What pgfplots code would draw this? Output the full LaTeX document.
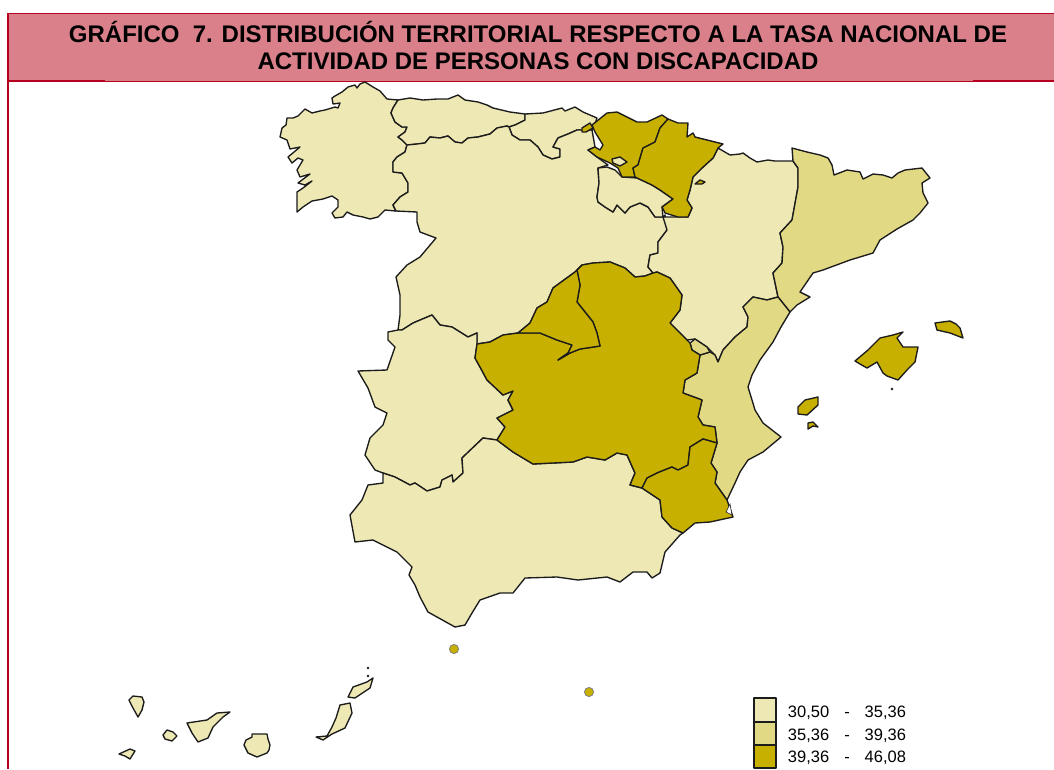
\documentclass[border=0pt]{standalone}
\usepackage{pgfplots}
\pgfplotsset{compat=1.18}
\usepackage{fontspec}
\setmainfont{Liberation Sans}
\definecolor{cl}{HTML}{EEE8B4}
\definecolor{cm}{HTML}{E2D985}
\definecolor{cd}{HTML}{C8B000}
\definecolor{hd}{HTML}{D9808A}
\definecolor{rb}{HTML}{B5001F}
\definecolor{ln}{HTML}{1C1C1C}
\pgfplotsset{reg/.style={draw=ln,line width=1.35pt,line join=round,mark=none,fill=#1}}
\begin{document}
\begin{tikzpicture}
\begin{axis}[hide axis,scale only axis,width=1054pt,height=769pt,xmin=0,xmax=1054,ymin=0,ymax=769,y dir=reverse,clip=true]
\path (axis cs:0,0) rectangle (axis cs:1054,769);
\addplot[fill=white,draw=none,mark=none] coordinates {(0,0)(1054,0)(1054,769)(0,769)} --cycle;
% header
\addplot[fill=hd,draw=none,mark=none] coordinates {(8,13)(1054,13)(1054,81)(8,81)} --cycle;
\addplot[rb,line width=1.6pt,mark=none] coordinates {(1054,13.5)(8,13.5)(8,769)};
\addplot[rb,line width=1pt,mark=none] coordinates {(8,81)(1054,81)};
\addplot[rb,line width=1.8pt,mark=none] coordinates {(8,81)(105,81)};
\addplot[rb,line width=1.8pt,mark=none] coordinates {(973,81)(1054,81)};
% Galicia
\addplot[reg=cl] coordinates {(280,137)(282,128)(286,125)(287,118)(293,118)(298,116)(305,109)(312,113)(320,111)(325,110)(335,107)(338,108)(340,103)(333,104)(332,98)(335,96)(342,92)(348,87)(355,85)(357,88)(360,84)(365,82)(373,87)(380,91)(387,99)(398,100)(393,108)(391,113)(395,122)(402,127)(407,127)(405,132)(398,137)(402,140)(407,145)(405,152)(397,157)(393,162)(393,172)(402,173)(408,183)(408,192)(400,197)(393,205)(396,211)(385,210)(378,217)(370,219)(363,217)(353,215)(347,212)(343,217)(335,218)(332,213)(338,207)(338,200)(332,196)(323,199)(312,201)(303,207)(297,212)(297,192)(303,188)(312,181)(305,185)(298,183)(310,174)(300,177)(297,170)(303,160)(298,158)(292,163)(288,157)(300,147)(290,149)(287,140)} --cycle;
% Asturias
\addplot[reg=cl] coordinates {(398,100)(410,98)(423,100)(437,99)(448,99)(458,95)(465,100)(478,102)(487,105)(493,108)(510,112)(525,114)(525,120)(515,125)(509,127)(507,126)(497,128)(490,134)(478,137)(468,138)(462,143)(455,142)(448,136)(440,138)(430,137)(425,143)(417,144)(407,145)(402,140)(398,137)(405,132)(407,127)(402,127)(395,122)(391,113)(393,108)} --cycle;
% Cantabria
\addplot[reg=cl] coordinates {(525,114)(543,113)(562,108)(565,111)(575,107)(583,112)(597,118)(595,124)(592,130)(577,130)(568,134)(558,138)(553,147)(560,149)(560,157)(552,159)(543,155)(538,147)(530,140)(520,140)(512,135)(509,127)(515,125)(525,120)} --cycle;
% Castilla y Leon
\addplot[reg=cl] coordinates {(407,145)(417,144)(425,143)(430,137)(440,138)(448,136)(455,142)(462,143)(468,138)(478,137)(490,134)(497,128)(507,126)(509,127)(512,135)(520,140)(530,140)(538,147)(543,155)(552,159)(560,157)(560,149)(553,147)(558,138)(568,134)(577,130)(592,130)(595,147)(588,150)(597,157)(608,165)(598,168)(599,183)(597,197)(598,202)(605,207)(613,212)(617,205)(625,213)(630,207)(640,203)(648,207)(655,217)(663,217)(665,215)(667,230)(658,242)(658,253)(650,255)(648,267)(653,273)(645,276)(635,277)(625,268)(610,262)(593,263)(582,265)(575,272)(553,288)(547,302)(537,308)(530,323)(518,333)(503,335)(490,342)(477,344)(477,333)(468,337)(452,327)(440,325)(432,315)(413,323)(402,330)(398,330)(400,315)(400,295)(396,277)(407,265)(420,257)(436,238)(420,232)(417,222)(417,212)(396,211)(393,205)(400,197)(408,192)(408,183)(402,173)(393,172)(393,162)(397,157)(405,152)} --cycle;
% La Rioja
\addplot[reg=cl] coordinates {(598,168)(607,167)(615,170)(622,177)(637,178)(652,185)(660,190)(673,199)(662,207)(663,217)(655,217)(648,207)(640,203)(630,207)(625,213)(617,205)(613,212)(605,207)(598,202)(597,197)(599,183)} --cycle;
% Aragon
\addplot[reg=cl] coordinates {(663,217)(678,217)(688,217)(692,208)(687,200)(690,190)(693,177)(702,168)(713,158)(718,148)(730,155)(740,154)(743,153)(750,158)(757,162)(768,160)(775,161)(793,161)(798,168)(798,187)(792,220)(780,233)(783,247)(782,263)(773,273)(778,297)(767,300)(753,297)(743,307)(748,317)(747,327)(735,337)(723,350)(718,362)(715,355)(707,347)(695,339)(687,340)(670,323)(680,310)(682,295)(670,278)(657,272)(653,273)(648,267)(650,255)(658,253)(658,242)(667,230)} --cycle;
% Extremadura
\addplot[reg=cl] coordinates {(398,330)(402,330)(413,323)(432,315)(440,325)(452,327)(468,337)(477,333)(477,344)(475,358)(480,367)(487,380)(503,395)(513,391)(508,400)(513,410)(497,418)(505,427)(497,440)(483,438)(462,458)(463,473)(453,482)(452,475)(442,480)(440,487)(427,491)(415,483)(410,485)(395,477)(383,473)(375,470)(365,455)(370,438)(383,425)(387,413)(375,407)(368,388)(358,371)(387,370)(395,347)(388,340)(388,332)} --cycle;
% Andalucia
\addplot[reg=cl] coordinates {(383,473)(383,483)(368,485)(362,500)(350,515)(355,542)(373,540)(397,552)(412,567)(409,575)(415,585)(420,597)(428,612)(455,627)(465,625)(472,613)(480,600)(500,593)(513,593)(525,578)(557,577)(578,580)(607,577)(620,582)(633,572)(647,572)(652,578)(660,573)(665,552)(680,535)(683,533)(672,528)(662,517)(660,500)(642,488)(630,485)(635,473)(627,455)(617,453)(605,460)(587,457)(573,462)(553,463)(533,464)(513,452)(497,440)(483,438)(462,458)(463,473)(453,482)(452,475)(442,480)(440,487)(427,491)(415,483)(410,485)(395,477)} --cycle;
% Canarias
\addplot[reg=cl] coordinates {(129,700)(133,696)(142,697)(144,702)(142,710)(138,717)(133,708)} --cycle;
\addplot[reg=cl] coordinates {(119,754)(130,749)(135,751)(130,759)(125,756)} --cycle;
\addplot[reg=cl] coordinates {(163,735)(167,730)(173,732)(177,736)(172,741)(165,739)} --cycle;
\addplot[reg=cl] coordinates {(187,723)(207,720)(217,713)(230,712)(223,717)(213,727)(208,738)(198,742)(192,733)} --cycle;
\addplot[reg=cl] coordinates {(244,745)(246,740)(252,737)(252,734)(267,734)(268,739)(270,745)(269,750)(267,753)(257,757)(248,753)} --cycle;
\addplot[reg=cl] coordinates {(316,737)(327,736)(332,727)(336,718)(340,705)(350,703)(352,713)(345,728)(332,734)(323,740)} --cycle;
\addplot[reg=cl] coordinates {(348,697)(353,687)(367,682)(373,678)(370,688)(355,698)} --cycle;
\addplot[only marks,mark=*,mark size=1.1pt,color=ln] coordinates {(368,676)(368,668)(892,389)};
% Catalunya
\addplot[reg=cm] coordinates {(792,148)(807,152)(820,155)(828,158)(832,165)(834,175)(847,170)(860,172)(863,179)(873,174)(883,175)(892,178)(898,173)(905,170)(922,168)(930,178)(922,183)(923,193)(928,203)(920,213)(913,220)(897,229)(880,240)(873,253)(850,260)(823,270)(813,273)(800,292)(810,297)(797,305)(790,312)(778,297)(773,273)(782,263)(783,247)(780,233)(792,220)(798,187)(798,168)(793,161)} --cycle;
% Valencia
\addplot[reg=cm] coordinates {(790,312)(781,327)(773,342)(760,360)(752,375)(748,387)(752,400)(755,410)(763,423)(781,437)(763,452)(748,460)(740,472)(735,483)(727,500)(715,483)(717,472)(711,463)(717,443)(715,427)(703,425)(698,417)(702,400)(683,393)(685,380)(697,373)(700,355)(710,352)(715,355)(718,362)(723,350)(735,337)(747,327)(748,317)(743,307)(753,297)(767,300)(778,297)} --cycle;
\addplot[reg=cm] coordinates {(690,343)(695,339)(707,347)(710,352)(700,355)(692,350)} --cycle;
% Pais Vasco
\addplot[reg=cd] coordinates {(592,125)(607,113)(617,112)(637,122)(647,122)(662,115)(668,119)(660,128)(655,142)(643,148)(638,165)(633,168)(635,177)(622,177)(618,168)(610,163)(597,157)(588,150)(595,147)(600,150)(603,145)(595,132)} --cycle;
\addplot[reg=cl] coordinates {(612,159)(620,157)(627,162)(620,166)(613,163)} --cycle;
\addplot[reg=cd] coordinates {(582,128)(590,123)(593,128)(586,132)(582,132)} --cycle;
% Navarra
\addplot[reg=cd] coordinates {(668,119)(678,123)(688,123)(687,137)(693,133)(695,137)(723,144)(718,148)(713,158)(702,168)(693,177)(690,190)(687,200)(692,208)(688,217)(678,217)(665,213)(662,207)(673,199)(660,190)(652,185)(637,178)(635,177)(633,168)(638,165)(643,148)(655,142)(660,128)} --cycle;
\addplot[reg=cd] coordinates {(695,184)(700,180)(705,182)(702,184)} --cycle;
% Castilla-La Mancha
\addplot[reg=cd] coordinates {(582,265)(593,263)(610,262)(625,268)(635,277)(645,276)(653,273)(657,272)(670,278)(682,295)(680,310)(670,323)(687,340)(690,343)(692,350)(700,355)(697,373)(685,380)(683,393)(702,400)(698,417)(703,425)(715,427)(717,443)(703,439)(690,447)(688,465)(678,470)(672,467)(657,473)(647,478)(642,488)(630,485)(635,473)(627,455)(617,453)(605,460)(587,457)(573,462)(553,463)(533,464)(513,452)(497,440)(505,427)(497,418)(513,410)(508,400)(513,391)(503,395)(487,380)(480,367)(475,358)(477,344)(490,342)(503,335)(518,333)(528,333)(540,333)(557,340)(572,345)(568,353)(558,360)(570,353)(580,349)(600,346)(597,333)(593,322)(577,302)(580,285)(577,270)} --cycle;
% Madrid
\addplot[reg=cd] coordinates {(582,265)(575,272)(553,288)(547,302)(537,308)(530,323)(518,333)(528,333)(540,333)(557,340)(572,345)(568,353)(558,360)(570,353)(580,349)(600,346)(597,333)(593,322)(577,302)(580,285)(577,270)} --cycle;
% Murcia
\addplot[reg=cd] coordinates {(642,488)(647,478)(657,473)(672,467)(678,470)(688,465)(690,447)(703,439)(717,443)(711,463)(717,472)(715,483)(727,500)(733,517)(710,522)(695,523)(683,533)(672,528)(662,517)(660,500)} --cycle;
\addplot[draw=ln,line width=.6pt,fill=white,mark=none] coordinates {(726,512)(730,504)(732,515)} --cycle;
% Baleares
\addplot[reg=cd] coordinates {(855,361)(868,350)(880,338)(893,335)(903,332)(897,338)(903,347)(918,347)(915,362)(907,370)(898,380)(887,376)(883,373)(877,362)(867,368)(860,364)} --cycle;
\addplot[reg=cd] coordinates {(935,323)(950,321)(956,324)(960,328)(963,338)(950,333)(937,330)} --cycle;
\addplot[reg=cd] coordinates {(798,407)(805,400)(818,397)(818,405)(807,415)(798,414)} --cycle;
\addplot[reg=cd] coordinates {(808,423)(813,422)(818,427)(813,426)(808,429)} --cycle;
% Ceuta y Melilla
\addplot[only marks,mark=*,mark size=4.6pt,mark options={fill=cd,draw=gray,line width=.8pt}] coordinates {(454,649)(589,692)};
% leyenda
\addplot[reg=cl] coordinates {(754,698)(776,698)(776,722)(754,722)} --cycle;
\addplot[reg=cm] coordinates {(754,722)(776,722)(776,745)(754,745)} --cycle;
\addplot[reg=cd] coordinates {(754,745)(776,745)(776,768)(754,768)} --cycle;
\node[anchor=center,inner sep=0,font=\fontsize{16.5}{16.5}\selectfont] at (axis cs:847,713) {30,50\hspace{15pt}-\hspace{15pt}35,36};
\node[anchor=center,inner sep=0,font=\fontsize{16.5}{16.5}\selectfont] at (axis cs:847,735.5) {35,36\hspace{15pt}-\hspace{15pt}39,36};
\node[anchor=center,inner sep=0,font=\fontsize{16.5}{16.5}\selectfont] at (axis cs:847,758) {39,36\hspace{15pt}-\hspace{15pt}46,08};
\node[anchor=center,inner sep=0,font=\bfseries\fontsize{24}{24}\selectfont] at (axis cs:538,31.5) {GRÁFICO\hspace{0.55em}7. DISTRIBUCIÓN TERRITORIAL RESPECTO A LA TASA NACIONAL DE};
\node[anchor=center,inner sep=0,font=\bfseries\fontsize{24}{24}\selectfont] at (axis cs:538,61.5) {ACTIVIDAD DE PERSONAS CON DISCAPACIDAD};
\end{axis}
\end{tikzpicture}
\end{document}
